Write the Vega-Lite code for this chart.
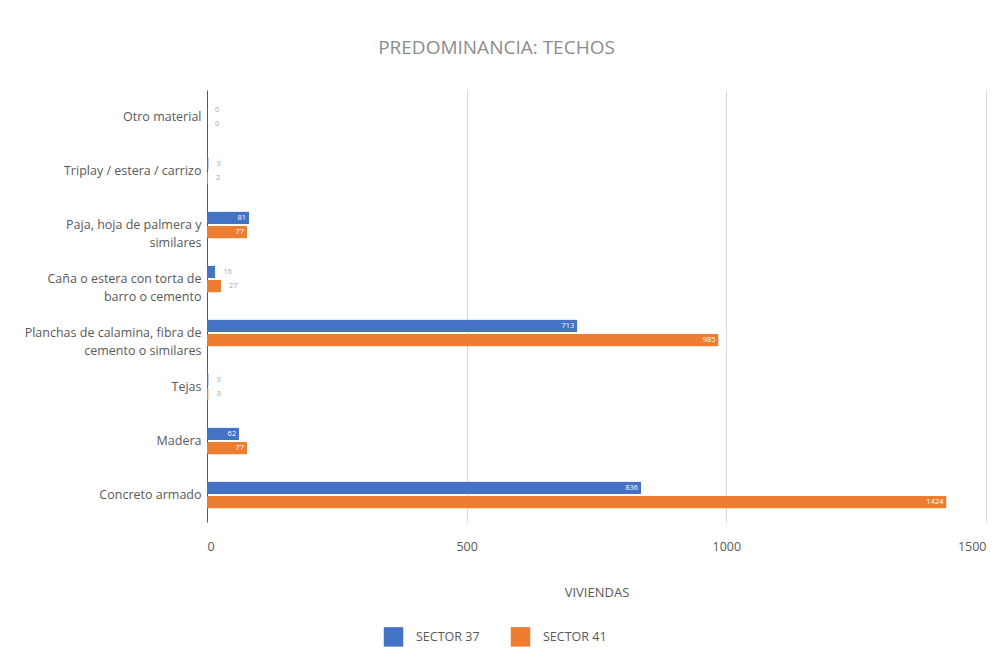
{
  "$schema": "https://vega.github.io/schema/vega-lite/v6.json",
  "autosize": "none",
  "width": 779,
  "height": 432,
  "padding": {"left": 207, "top": 90, "right": 8, "bottom": 136},
  "background": "white",
  "title": {
    "text": "PREDOMINANCIA: TECHOS",
    "font": "Open Sans",
    "fontSize": 19,
    "fontWeight": "normal",
    "color": "#8c8c8c",
    "anchor": "middle",
    "dx": -100,
    "offset": 32
  },
  "config": {
    "view": {"stroke": null},
    "font": "Open Sans"
  },
  "data": {
    "values": [
      {"categoria": "Otro material", "sector": "SECTOR 37", "viviendas": 0},
      {"categoria": "Otro material", "sector": "SECTOR 41", "viviendas": 0},
      {"categoria": "Triplay / estera / carrizo", "sector": "SECTOR 37", "viviendas": 3},
      {"categoria": "Triplay / estera / carrizo", "sector": "SECTOR 41", "viviendas": 2},
      {"categoria": "Paja, hoja de palmera y similares", "sector": "SECTOR 37", "viviendas": 81},
      {"categoria": "Paja, hoja de palmera y similares", "sector": "SECTOR 41", "viviendas": 77},
      {"categoria": "Caña o estera con torta de barro o cemento", "sector": "SECTOR 37", "viviendas": 16},
      {"categoria": "Caña o estera con torta de barro o cemento", "sector": "SECTOR 41", "viviendas": 27},
      {"categoria": "Planchas de calamina, fibra de cemento o similares", "sector": "SECTOR 37", "viviendas": 713},
      {"categoria": "Planchas de calamina, fibra de cemento o similares", "sector": "SECTOR 41", "viviendas": 985},
      {"categoria": "Tejas", "sector": "SECTOR 37", "viviendas": 3},
      {"categoria": "Tejas", "sector": "SECTOR 41", "viviendas": 3},
      {"categoria": "Madera", "sector": "SECTOR 37", "viviendas": 62},
      {"categoria": "Madera", "sector": "SECTOR 41", "viviendas": 77},
      {"categoria": "Concreto armado", "sector": "SECTOR 37", "viviendas": 836},
      {"categoria": "Concreto armado", "sector": "SECTOR 41", "viviendas": 1424}
    ]
  },
  "encoding": {
    "y": {
      "field": "categoria",
      "type": "nominal",
      "sort": null,
      "scale": {"paddingInner": 0.5, "paddingOuter": 0.25},
      "axis": {
        "title": null,
        "ticks": false,
        "domain": true,
        "domainColor": "#595959",
        "domainWidth": 1,
        "labelFont": "Open Sans",
        "labelFontSize": 12.5,
        "labelColor": "#595959",
        "labelPadding": 6,
        "labelLimit": 220,
        "labelLineHeight": 18,
        "labelExpr": "datum.value == 'Paja, hoja de palmera y similares' ? ['Paja, hoja de palmera y', 'similares'] : datum.value == 'Caña o estera con torta de barro o cemento' ? ['Caña o estera con torta de', 'barro o cemento'] : datum.value == 'Planchas de calamina, fibra de cemento o similares' ? ['Planchas de calamina, fibra de', 'cemento o similares'] : datum.value"
      }
    },
    "yOffset": {
      "field": "sector",
      "type": "nominal",
      "scale": {"paddingInner": 0.15}
    },
    "x": {
      "field": "viviendas",
      "type": "quantitative",
      "scale": {"domain": [0, 1500], "nice": false},
      "axis": {
        "values": [0, 500, 1000, 1500],
        "format": "d",
        "title": "VIVIENDAS",
        "titleFont": "Open Sans",
        "titleFontSize": 13,
        "titleFontWeight": "normal",
        "titleColor": "#595959",
        "titlePadding": 34,
        "labelFont": "Open Sans",
        "labelFontSize": 12.5,
        "labelColor": "#595959",
        "labelPadding": 18,
        "ticks": false,
        "domain": false,
        "grid": true,
        "gridColor": "#d9d9d9",
        "gridWidth": 1
      }
    }
  },
  "layer": [
    {
      "mark": {"type": "bar", "cornerRadius": 1},
      "encoding": {
        "color": {
          "field": "sector",
          "type": "nominal",
          "scale": {"domain": ["SECTOR 37", "SECTOR 41"], "range": ["#4472C4", "#ED7D31"]},
          "legend": {
            "title": null,
            "orient": "none",
            "direction": "horizontal",
            "legendX": 176,
            "legendY": 536,
            "symbolType": "square",
            "symbolSize": 380,
            "columnPadding": 30,
            "labelFont": "Open Sans",
            "labelFontSize": 12.5,
            "labelColor": "#595959",
            "labelOffset": 12
          }
        }
      }
    },
    {
      "transform": [{"filter": "datum.viviendas >= 50"}],
      "mark": {"type": "text", "align": "right", "dx": -3, "fontSize": 7.5, "color": "white", "font": "Open Sans"},
      "encoding": {"text": {"field": "viviendas", "type": "quantitative"}}
    },
    {
      "transform": [{"filter": "datum.viviendas < 50"}],
      "mark": {"type": "text", "align": "left", "dx": 8, "fontSize": 7.5, "color": "#a6a6a6", "font": "Open Sans"},
      "encoding": {"text": {"field": "viviendas", "type": "quantitative"}}
    }
  ]
}
